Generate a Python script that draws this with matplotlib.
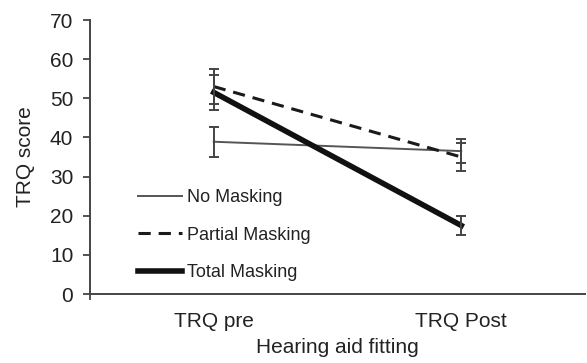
import matplotlib
matplotlib.use("Agg")
import matplotlib.pyplot as plt

plt.rcParams['font.family'] = ['Liberation Sans', 'DejaVu Sans']

categories = ["TRQ pre", "TRQ Post"]
no_masking = [38.9, 36.5]
no_masking_err = [3.8, 3.0]
partial_masking = [53.0, 35.0]
partial_masking_err = [4.5, 3.5]
total_masking = [51.5, 17.5]
total_masking_err = [4.5, 2.5]
y_ticks = [0, 10, 20, 30, 40, 50, 60, 70]

text_color = "#222222"
fig = plt.figure(figsize=(5.87, 3.63), dpi=100)
ax = fig.add_axes([90 / 587, (363 - 294) / 363, (585 - 90) / 587, (294 - 20) / 363])

x = list(range(len(categories)))
ax.plot(x, no_masking, color="#555555", lw=1.4, label="No Masking", zorder=2)
ax.plot(x, partial_masking, color="#1a1a1a", lw=2.2, ls=(0, (4.0, 2.6)), label="Partial Masking", zorder=3)
ax.plot(x, total_masking, color="#111111", lw=4.0, label="Total Masking", zorder=4)

for vals, errs in [(no_masking, no_masking_err), (partial_masking, partial_masking_err),
                   (total_masking, total_masking_err)]:
    ax.errorbar(x, vals, yerr=errs, fmt="none", ecolor="#444444", elinewidth=1.4,
                capsize=3.6, capthick=1.4, zorder=5)

ax.set_xlim(-0.5, 1.5)
ax.set_ylim(0, 70)
ax.set_yticks(y_ticks)
ax.set_xticks(x)
ax.set_xticklabels(categories)
ax.set_xticks([-0.5], minor=True)
ax.tick_params(axis="x", which="major", length=0, pad=13, labelsize=15, labelcolor=text_color)
ax.tick_params(axis="x", which="minor", length=4, width=1.3, direction="out", color="#444444")
ax.tick_params(axis="y", length=5, width=1.3, direction="out", color="#444444",
               labelsize=15, labelcolor=text_color, pad=7)

for side in ["top", "right"]:
    ax.spines[side].set_visible(False)
for side in ["left", "bottom"]:
    ax.spines[side].set_color("#444444")
    ax.spines[side].set_linewidth(1.4)

ax.set_ylabel("TRQ score", fontsize=15, color=text_color, labelpad=11)
ax.set_xlabel("Hearing aid fitting", fontsize=15, color=text_color, labelpad=5)

leg = ax.legend(loc="lower left", bbox_to_anchor=(0.097, 0.048), frameon=False, fontsize=13,
                handlelength=2.45, handletextpad=0.28, labelspacing=1.12,
                borderpad=0, borderaxespad=0)
for t in leg.get_texts():
    t.set_color(text_color)

fig.savefig("out.png", dpi=100, facecolor="white")
